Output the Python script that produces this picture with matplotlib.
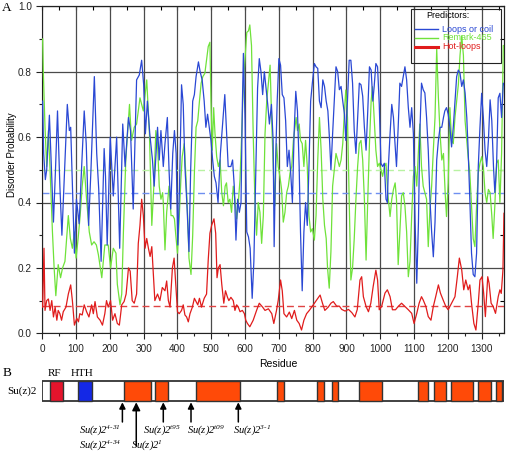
import matplotlib
matplotlib.use('Agg')
import matplotlib.pyplot as plt
from matplotlib.patches import Rectangle
from matplotlib.lines import Line2D
import numpy as np

plt.rcParams['font.family'] = ['Liberation Sans', 'DejaVu Sans']
plt.rcParams['mathtext.fontset'] = 'custom'
plt.rcParams['mathtext.rm'] = 'Liberation Serif:italic'
plt.rcParams['mathtext.it'] = 'Liberation Serif:italic'

# ---------------- data ----------------
loops_pts = [(1,0.71),(4,0.55),(9,0.47),(13,0.50),(21,0.667),(27,0.50),(33,0.34),(39,0.50),(45,0.68),(52,0.45),(58,0.30),(66,0.50),(74,0.70),(80,0.62),(84,0.63),(89,0.45),(95,0.245),(101,0.41),(109,0.335),(116,0.50),(124,0.68),(130,0.58),(137,0.33),(144,0.50),(154,0.785),(161,0.55),(167,0.44),(174,0.22),(183,0.565),(187,0.48),(192,0.27),(201,0.60),(210,0.42),(220,0.60),(229,0.26),(238,0.64),(245,0.51),(255,0.66),(261,0.62),(269,0.38),(279,0.775),(287,0.79),(294,0.835),(300,0.76),(305,0.61),(311,0.71),(318,0.61),(326,0.53),(331,0.45),(341,0.63),(346,0.53),(351,0.62),(358,0.51),(363,0.58),(370,0.66),(375,0.50),(380,0.38),(386,0.55),(391,0.62),(396,0.55),(401,0.27),(406,0.45),(412,0.76),(417,0.70),(422,0.51),(428,0.39),(434,0.25),(439,0.50),(445,0.71),(450,0.73),(455,0.785),(462,0.83),(467,0.80),(473,0.775),(479,0.71),(484,0.63),(489,0.67),(494,0.63),(499,0.59),(504,0.53),(509,0.48),(514,0.46),(520,0.40),(527,0.55),(540,0.73),(550,0.51),(558,0.51),(563,0.53),(568,0.45),(573,0.285),(578,0.41),(583,0.37),(588,0.40),(592,0.70),(595,0.856),(600,0.65),(605,0.31),(610,0.295),(615,0.26),(621,0.107),(626,0.22),(632,0.51),(637,0.75),(642,0.84),(647,0.80),(652,0.73),(657,0.80),(662,0.75),(667,0.70),(672,0.64),(678,0.70),(683,0.59),(686,0.265),(690,0.51),(695,0.71),(700,0.84),(705,0.82),(710,0.73),(715,0.72),(720,0.65),(725,0.51),(730,0.56),(735,0.49),(740,0.40),(745,0.61),(750,0.74),(755,0.68),(760,0.51),(764,0.31),(769,0.13),(774,0.31),(779,0.40),(784,0.33),(789,0.51),(794,0.71),(799,0.765),(805,0.825),(810,0.815),(815,0.81),(820,0.71),(825,0.69),(830,0.775),(835,0.755),(840,0.71),(845,0.68),(850,0.59),(854,0.50),(859,0.61),(864,0.71),(869,0.815),(874,0.80),(879,0.745),(884,0.755),(889,0.71),(894,0.67),(898,0.59),(903,0.71),(908,0.835),(913,0.835),(918,0.765),(923,0.62),(928,0.55),(933,0.66),(938,0.765),(943,0.76),(948,0.725),(953,0.63),(958,0.56),(963,0.68),(968,0.815),(973,0.805),(978,0.71),(982,0.755),(987,0.825),(992,0.815),(997,0.70),(1002,0.52),(1007,0.51),(1012,0.52),(1017,0.41),(1021,0.40),(1024,0.51),(1029,0.61),(1034,0.70),(1039,0.66),(1043,0.59),(1048,0.51),(1053,0.63),(1058,0.765),(1063,0.755),(1068,0.785),(1073,0.815),(1078,0.775),(1083,0.69),(1088,0.63),(1093,0.69),(1098,0.61),(1103,0.34),(1108,0.153),(1113,0.34),(1117,0.61),(1122,0.765),(1127,0.745),(1132,0.735),(1137,0.66),(1142,0.56),(1147,0.41),(1152,0.31),(1157,0.234),(1162,0.34),(1167,0.53),(1172,0.59),(1177,0.63),(1182,0.63),(1187,0.66),(1191,0.68),(1196,0.69),(1201,0.67),(1206,0.63),(1211,0.57),(1216,0.63),(1221,0.71),(1226,0.785),(1231,0.805),(1236,0.795),(1241,0.755),(1246,0.775),(1251,0.735),(1256,0.66),(1260,0.56),(1265,0.41),(1270,0.245),(1275,0.18),(1280,0.173),(1285,0.245),(1290,0.51),(1295,0.63),(1300,0.734),(1305,0.66),(1310,0.56),(1315,0.51),(1320,0.59),(1325,0.714),(1330,0.65),(1335,0.51),(1339,0.43),(1344,0.51),(1349,0.72),(1354,0.734),(1359,0.66),(1364,0.765),(1367,0.76)]

remark_pts = [(1,0.90),(3,0.80),(8,0.63),(13,0.51),(18,0.62),(23,0.50),(30,0.31),(35,0.20),(40,0.115),(47,0.21),(54,0.17),(60,0.20),(67,0.22),(77,0.36),(83,0.29),(89,0.26),(95,0.31),(100,0.23),(106,0.29),(112,0.36),(118,0.45),(124,0.51),(131,0.41),(139,0.31),(146,0.27),(153,0.28),(160,0.27),(166,0.24),(176,0.17),(185,0.27),(195,0.27),(202,0.20),(210,0.26),(218,0.245),(222,0.15),(230,0.087),(235,0.12),(240,0.31),(247,0.53),(258,0.70),(264,0.59),(272,0.63),(279,0.64),(289,0.72),(299,0.68),(309,0.775),(317,0.61),(324,0.33),(330,0.45),(336,0.62),(341,0.58),(346,0.45),(351,0.41),(356,0.43),(358,0.40),(363,0.255),(368,0.37),(375,0.45),(381,0.36),(386,0.36),(391,0.35),(395,0.30),(400,0.245),(405,0.35),(410,0.47),(414,0.54),(420,0.58),(425,0.48),(430,0.36),(434,0.23),(440,0.18),(445,0.30),(450,0.49),(455,0.63),(460,0.65),(465,0.71),(470,0.765),(475,0.785),(481,0.795),(486,0.835),(491,0.877),(496,0.89),(499,0.71),(503,0.56),(507,0.69),(511,0.61),(516,0.54),(521,0.51),(526,0.53),(531,0.43),(536,0.39),(541,0.45),(545,0.46),(550,0.40),(555,0.41),(560,0.37),(565,0.45),(570,0.41),(575,0.35),(580,0.40),(585,0.47),(590,0.61),(595,0.765),(600,0.845),(605,0.92),(610,0.925),(614,0.943),(619,0.88),(624,0.61),(629,0.41),(634,0.30),(639,0.40),(644,0.37),(649,0.275),(654,0.36),(659,0.61),(664,0.71),(669,0.765),(674,0.82),(679,0.64),(684,0.49),(688,0.39),(693,0.58),(698,0.51),(703,0.48),(708,0.44),(713,0.34),(718,0.37),(723,0.43),(728,0.45),(733,0.49),(738,0.51),(743,0.59),(751,0.66),(755,0.62),(760,0.64),(764,0.59),(769,0.58),(774,0.51),(779,0.59),(784,0.51),(789,0.36),(794,0.31),(799,0.32),(805,0.285),(810,0.36),(815,0.53),(820,0.66),(825,0.56),(830,0.41),(835,0.33),(840,0.29),(844,0.20),(849,0.138),(854,0.25),(859,0.45),(864,0.50),(869,0.55),(874,0.53),(879,0.51),(884,0.53),(889,0.58),(894,0.68),(898,0.744),(903,0.66),(908,0.41),(913,0.163),(918,0.20),(923,0.29),(928,0.41),(933,0.51),(938,0.58),(943,0.59),(948,0.53),(953,0.41),(958,0.224),(963,0.41),(968,0.58),(973,0.71),(977,0.754),(982,0.66),(987,0.56),(992,0.51),(997,0.52),(1002,0.50),(1007,0.48),(1012,0.51),(1017,0.52),(1022,0.43),(1029,0.357),(1034,0.41),(1039,0.44),(1044,0.46),(1048,0.41),(1053,0.21),(1058,0.31),(1063,0.42),(1068,0.43),(1073,0.39),(1078,0.31),(1083,0.173),(1088,0.22),(1093,0.36),(1098,0.48),(1103,0.51),(1108,0.45),(1113,0.56),(1117,0.64),(1122,0.51),(1127,0.45),(1132,0.43),(1137,0.41),(1142,0.265),(1147,0.38),(1152,0.45),(1157,0.56),(1162,0.66),(1167,0.87),(1172,0.72),(1177,0.61),(1182,0.53),(1187,0.55),(1192,0.43),(1196,0.357),(1201,0.46),(1206,0.69),(1211,0.59),(1216,0.58),(1221,0.66),(1226,0.71),(1231,0.76),(1236,0.85),(1241,0.91),(1246,0.85),(1251,0.65),(1256,0.59),(1260,0.54),(1265,0.49),(1270,0.39),(1275,0.29),(1280,0.265),(1285,0.39),(1290,0.49),(1295,0.52),(1300,0.54),(1305,0.51),(1310,0.43),(1315,0.40),(1320,0.44),(1325,0.43),(1330,0.36),(1334,0.29),(1339,0.39),(1344,0.52),(1349,0.53),(1354,0.40),(1359,0.55),(1364,0.88),(1367,0.88)]

hot_pts = [(1,0.08),(5,0.26),(8,0.07),(13,0.10),(18,0.105),(23,0.07),(28,0.10),(33,0.05),(38,0.08),(43,0.04),(47,0.07),(52,0.06),(57,0.04),(62,0.066),(70,0.08),(77,0.12),(84,0.148),(89,0.10),(95,0.025),(102,0.046),(107,0.035),(111,0.06),(118,0.056),(124,0.087),(131,0.066),(138,0.05),(146,0.087),(151,0.06),(156,0.097),(163,0.05),(171,0.04),(178,0.025),(185,0.06),(190,0.10),(195,0.08),(202,0.10),(208,0.04),(215,0.06),(222,0.03),(228,0.025),(235,0.087),(242,0.097),(248,0.12),(255,0.20),(260,0.19),(266,0.10),(272,0.092),(279,0.12),(284,0.275),(289,0.33),(294,0.41),(299,0.36),(304,0.26),(309,0.29),(314,0.26),(319,0.235),(324,0.265),(329,0.17),(333,0.10),(341,0.12),(348,0.10),(355,0.14),(363,0.13),(368,0.16),(373,0.10),(378,0.08),(385,0.20),(390,0.23),(395,0.15),(400,0.066),(405,0.06),(412,0.07),(417,0.087),(422,0.056),(427,0.05),(432,0.035),(437,0.06),(444,0.08),(450,0.107),(455,0.097),(460,0.087),(465,0.107),(471,0.08),(479,0.107),(486,0.12),(491,0.225),(496,0.306),(501,0.33),(508,0.35),(513,0.306),(517,0.17),(521,0.20),(526,0.21),(531,0.15),(537,0.092),(542,0.13),(548,0.11),(552,0.10),(558,0.11),(565,0.10),(570,0.07),(575,0.087),(580,0.08),(585,0.066),(592,0.07),(598,0.06),(602,0.04),(607,0.03),(614,0.02),(624,0.04),(634,0.07),(642,0.092),(652,0.08),(659,0.07),(669,0.075),(679,0.06),(685,0.03),(693,0.07),(698,0.10),(705,0.163),(710,0.13),(715,0.06),(723,0.05),(731,0.065),(738,0.045),(746,0.07),(753,0.04),(760,0.03),(767,0.01),(774,0.04),(782,0.06),(790,0.07),(797,0.08),(807,0.095),(822,0.117),(829,0.092),(836,0.07),(846,0.08),(854,0.092),(861,0.097),(871,0.083),(879,0.083),(886,0.073),(896,0.068),(906,0.073),(916,0.063),(925,0.05),(932,0.073),(940,0.163),(945,0.173),(950,0.112),(958,0.082),(965,0.066),(972,0.092),(979,0.143),(987,0.193),(992,0.163),(997,0.072),(1004,0.082),(1014,0.123),(1021,0.133),(1029,0.112),(1036,0.072),(1045,0.072),(1053,0.082),(1063,0.092),(1073,0.082),(1083,0.072),(1093,0.061),(1100,0.03),(1108,0.061),(1115,0.092),(1122,0.112),(1127,0.102),(1135,0.082),(1142,0.051),(1150,0.04),(1157,0.082),(1164,0.112),(1172,0.148),(1178,0.123),(1186,0.102),(1194,0.082),(1201,0.072),(1211,0.092),(1221,0.112),(1228,0.173),(1234,0.23),(1241,0.194),(1247,0.133),(1253,0.163),(1260,0.133),(1265,0.148),(1270,0.092),(1277,0.03),(1283,0.01),(1290,0.092),(1295,0.163),(1301,0.173),(1306,0.122),(1311,0.051),(1318,0.173),(1322,0.153),(1328,0.092),(1334,0.082),(1341,0.061),(1349,0.112),(1354,0.133),(1358,0.122),(1363,0.194),(1366,0.367)]

series_names = ['Loops or coil', 'Remark-465', 'Hot-loops']
thresholds = [0.43, 0.50, 0.085]

protein_length = 1366
rf_domain = (23, 62)
hth_domain = (106, 148)
hot_regions = [(242, 322), (333, 373), (455, 585), (694, 715), (814, 833), (856, 876),
               (937, 1006), (1111, 1142), (1160, 1194), (1209, 1273), (1290, 1328), (1342, 1361)]
mutation_pos = [237, 278, 358, 440, 580]
mutation_sup = ['4-31', '1', 't95', 't09', '3-1']
extra_label_sup = '4-34'

x_ticks = list(range(0, 1301, 100))
y_ticks = [0.0, 0.2, 0.4, 0.6, 0.8, 1.0]

# ---------------- styling ----------------
W, H = 511, 454
col_blue, col_green, col_red = '#2a48d4', '#6fe23a', '#e01c1c'
dash_cols = ['#6f8ff0', '#b8f2a2', '#e04444']

fig = plt.figure(figsize=(W/100, H/100), dpi=100)

def fx(px): return px / W
def fy(py): return 1 - py / H

axL, axR, axT, axB = 42.3, 504.3, 6.3, 333.3
ax = fig.add_axes([fx(axL), fy(axB), fx(axR) - fx(axL), fy(axT) - fy(axB)])
ax.set_xlim(0, 1367)
ax.set_ylim(0, 1.0)
ax.set_xticks(x_ticks)
ax.set_xticks(np.arange(50, 1367, 100), minor=True)
ax.set_yticks(y_ticks)
ax.set_yticklabels([f'{v:.1f}' for v in y_ticks])
ax.set_yticks([0.1, 0.3, 0.5, 0.7, 0.9], minor=True)
ax.tick_params(which='both', direction='out', labelsize=7.2, width=0.8, colors='#222222')
ax.tick_params(which='major', length=4)
ax.tick_params(which='minor', length=2.5)
ax.grid(True, which='major', color='#4a4a4a', lw=0.9)
ax.set_axisbelow(True)
for s in ax.spines.values():
    s.set_linewidth(0.8)
    s.set_color('#222222')

secx = ax.secondary_xaxis('top')
secx.set_xticks(np.arange(0, 1367, 50))
secx.tick_params(direction='in', length=3, labeltop=False, width=0.8)
secy = ax.secondary_yaxis('right')
secy.set_yticks(np.arange(0, 1.01, 0.1))
secy.tick_params(direction='in', length=3, labelright=False, width=0.8)

for v, c in zip(thresholds, dash_cols):
    ax.axhline(v, color=c, lw=1.0, ls=(0, (5, 3)), zorder=2)

def xy(pts):
    a = np.array(pts)
    return a[:, 0], a[:, 1]

rx, rv = xy(remark_pts)
lx, lv = xy(loops_pts)
hx, hv = xy(hot_pts)
ax.plot(rx, rv, color=col_green, lw=0.9, zorder=3)
ax.plot(lx, lv, color=col_blue, lw=0.9, zorder=4)
ax.plot(hx, hv, color=col_red, lw=0.9, zorder=5)

fig.text(fx(278), fy(364), 'Residue', ha='center', va='center', fontsize=7.5)
fig.text(fx(12.5), fy(155), 'Disorder Probability', ha='center', va='center',
         rotation=90, fontsize=7)
fig.text(fx(7), fy(8), 'A', ha='center', va='center', fontsize=9.5,
         family=['Liberation Serif'])

# legend (manual, in figure pixel coordinates)
leg_box = Rectangle((fx(411), fy(63)), fx(501) - fx(411), fy(9) - fy(63),
                    transform=fig.transFigure, facecolor='none', edgecolor='#222222',
                    lw=0.8, zorder=10)
fig.add_artist(leg_box)
fig.text(fx(448), fy(16), 'Predictors:', ha='center', va='center', fontsize=6.5, zorder=11)
for i, (name, c) in enumerate(zip(series_names, [col_blue, col_green, col_red])):
    yy = fy(29 + 8.9 * i)
    fig.add_artist(Line2D([fx(415), fx(438)], [yy, yy], transform=fig.transFigure,
                          color=c, lw=2.2 if i == 2 else 1.0, zorder=11))
    fig.text(fx(442), yy, name, color=c, ha='left', va='center', fontsize=6.5, zorder=11)

# ---------------- panel B ----------------
axb = fig.add_axes([fx(axL), 0, fx(axR) - fx(axL), fy(360)])
axb.set_xlim(0, 1367)
axb.set_ylim(454, 360)
axb.axis('off')

bar_top, bar_h = 380.8, 20.2
axb.add_patch(Rectangle((0, bar_top), protein_length, bar_h, facecolor='white',
                        edgecolor='#333333', lw=1.3, zorder=1))
axb.add_patch(Rectangle((rf_domain[0], bar_top), rf_domain[1] - rf_domain[0], bar_h,
                        facecolor='#e4142c', edgecolor='#333333', lw=1.0, zorder=2))
axb.add_patch(Rectangle((hth_domain[0], bar_top), hth_domain[1] - hth_domain[0], bar_h,
                        facecolor='#1428e6', edgecolor='#333333', lw=1.0, zorder=2))
for s, e in hot_regions:
    axb.add_patch(Rectangle((s, bar_top), e - s, bar_h, facecolor='#ff4a08',
                            edgecolor='#333333', lw=1.0, zorder=2))

serif = ['Liberation Serif', 'DejaVu Serif']
axb.text(np.mean(rf_domain) - 6, 374, 'RF', ha='center', va='center', fontsize=8, family=serif)
axb.text(np.mean(hth_domain) - 9, 374, 'HTH', ha='center', va='center', fontsize=8, family=serif)
fig.text(fx(37), fy(391), 'Su(z)2', ha='right', va='center', fontsize=8, family=serif)
fig.text(fx(7), fy(373), 'B', ha='center', va='center', fontsize=9.5, family=serif)

def allele(sup):
    return r'$\mathrm{Su(z)2}^{\mathrm{' + sup.replace('-', r'\text{-}') + '}}$'

label_dx = [-66, 32, -4, 44, 41]
label_y = [430, 445, 430, 430, 430]
for i, (p, sup) in enumerate(zip(mutation_pos, mutation_sup)):
    long = (i == 1)
    tail = 446 if long else 422
    axb.annotate('', xy=(p, 402.3), xytext=(p, tail),
                 arrowprops=dict(arrowstyle='-|>', color='black', lw=1.1,
                                 mutation_scale=12 if long else 9, shrinkA=0, shrinkB=0))
    axb.text(p + label_dx[i], label_y[i], allele(sup), ha='center', va='center', fontsize=7.6)
axb.text(mutation_pos[0] - 66, 445.5, allele(extra_label_sup),
         ha='center', va='center', fontsize=7.6)

fig.savefig('out.png', dpi=100)
